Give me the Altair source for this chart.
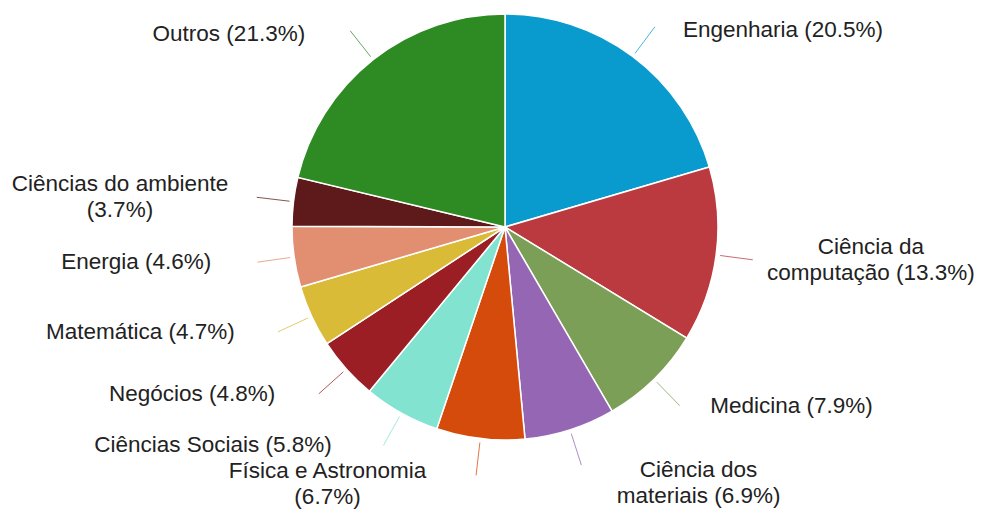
import altair as alt
import numpy as np
import pandas as pd

# ---- data ----
categories = [
    "Engenharia", "Ciência da computação", "Medicina", "Ciência dos materiais",
    "Física e Astronomia", "Ciências Sociais", "Negócios", "Matemática",
    "Energia", "Ciências do ambiente", "Outros",
]
shares = [20.5, 13.3, 7.9, 6.9, 6.7, 5.8, 4.8, 4.7, 4.6, 3.7, 21.3]
labels = [
    "Engenharia (20.5%)", "Ciência da\ncomputação (13.3%)", "Medicina (7.9%)",
    "Ciência dos\nmateriais (6.9%)", "Física e Astronomia\n(6.7%)",
    "Ciências Sociais (5.8%)", "Negócios (4.8%)", "Matemática (4.7%)",
    "Energia (4.6%)", "Ciências do ambiente\n(3.7%)", "Outros (21.3%)",
]
colors = [
    "#0a9bce", "#ba3a40", "#7c9f57", "#9466b3", "#d54b0c", "#82e3d0",
    "#9a1e24", "#d9bb38", "#e28e70", "#5e1a1a", "#2e8b24",
]

# ---- layout parameters ----
W, H = 970, 502
CX, CY = 497, 219          # pie centre inside plot area (px)
R = 213                    # pie radius
R_IN, R_OUT = 217, 250     # leader line radii
GAP_R, GAP_L = 30, 45      # gap leader end -> label
CHAR_W = 10.9              # estimated char width at font size
FS = 22.5
LH = 26

df = pd.DataFrame({"name": categories, "value": shares, "label": labels})
df["idx"] = np.arange(len(df))
v = np.array(shares)
tot = v.sum()
start = np.cumsum(v) - v
mid = (start + v / 2) / tot * 2 * np.pi
s, c = np.sin(mid), np.cos(mid)
df["x1"] = R_IN * s
df["y1"] = R_IN * c
df["x2"] = R_OUT * s
df["y2"] = R_OUT * c
side = np.where(s >= 0, 1, -1)
gap = np.where(s >= 0, GAP_R, GAP_L)
maxlen = np.array([max(len(t) for t in l.split("\n")) for l in labels])
nlines = np.array([len(l.split("\n")) for l in labels])
half_w = maxlen * CHAR_W / 2
tx = df["x2"] + side * (gap + half_w)
# keep labels inside the frame
tx = np.minimum(tx, (W - CX) - half_w - 9)
tx = np.maximum(tx, -CX + half_w + 3)
df["tx"] = tx
bottom = c < -0.9
# centre the text block on the leader end; bottom labels hang below it
block_shift = (nlines - 1) * LH / 2
ty = df["y2"] + block_shift - np.where(bottom, nlines * 13 - 8, 0) + np.where(c > 0.5, -3, 0)
# last line must stay inside the frame
last_line = ty - (nlines - 1) * LH
min_last = -(H - CY) + FS * 0.5 + 2
ty = ty + np.maximum(0, min_last - last_line)
df["ty"] = ty

xs = alt.Scale(domain=[-CX, W - CX], range=[0, W], nice=False, zero=False)
ys = alt.Scale(domain=[-(H - CY), CY], range=[H, 0], nice=False, zero=False)
cs = alt.Scale(domain=categories, range=colors)

base = alt.Chart(df)

pie = base.mark_arc(radius=R, stroke="white", strokeWidth=1.5).encode(
    theta=alt.Theta("value:Q", stack=True),
    color=alt.Color("name:N", scale=cs, legend=None),
    order=alt.Order("idx:Q"),
    x=alt.value(CX),
    y=alt.value(CY),
)

leaders = base.mark_rule(strokeWidth=1, opacity=0.75).encode(
    x=alt.X("x1:Q", scale=xs, axis=None),
    y=alt.Y("y1:Q", scale=ys, axis=None),
    x2="x2:Q",
    y2="y2:Q",
    color=alt.Color("name:N", scale=cs, legend=None),
)

text = base.mark_text(
    font="Liberation Sans", fontSize=FS, lineBreak="\n", lineHeight=LH,
    color="#222222", align="center", baseline="middle",
).encode(
    x=alt.X("tx:Q", scale=xs, axis=None),
    y=alt.Y("ty:Q", scale=ys, axis=None),
    text="label:N",
)

chart = alt.layer(pie, leaders, text).properties(
    width=W, height=H, padding=0,
    autosize=alt.AutoSizeParams(type="none"),
).configure_view(stroke=None)

chart.save("out.html", embed_options={"renderer": "svg", "actions": False})
